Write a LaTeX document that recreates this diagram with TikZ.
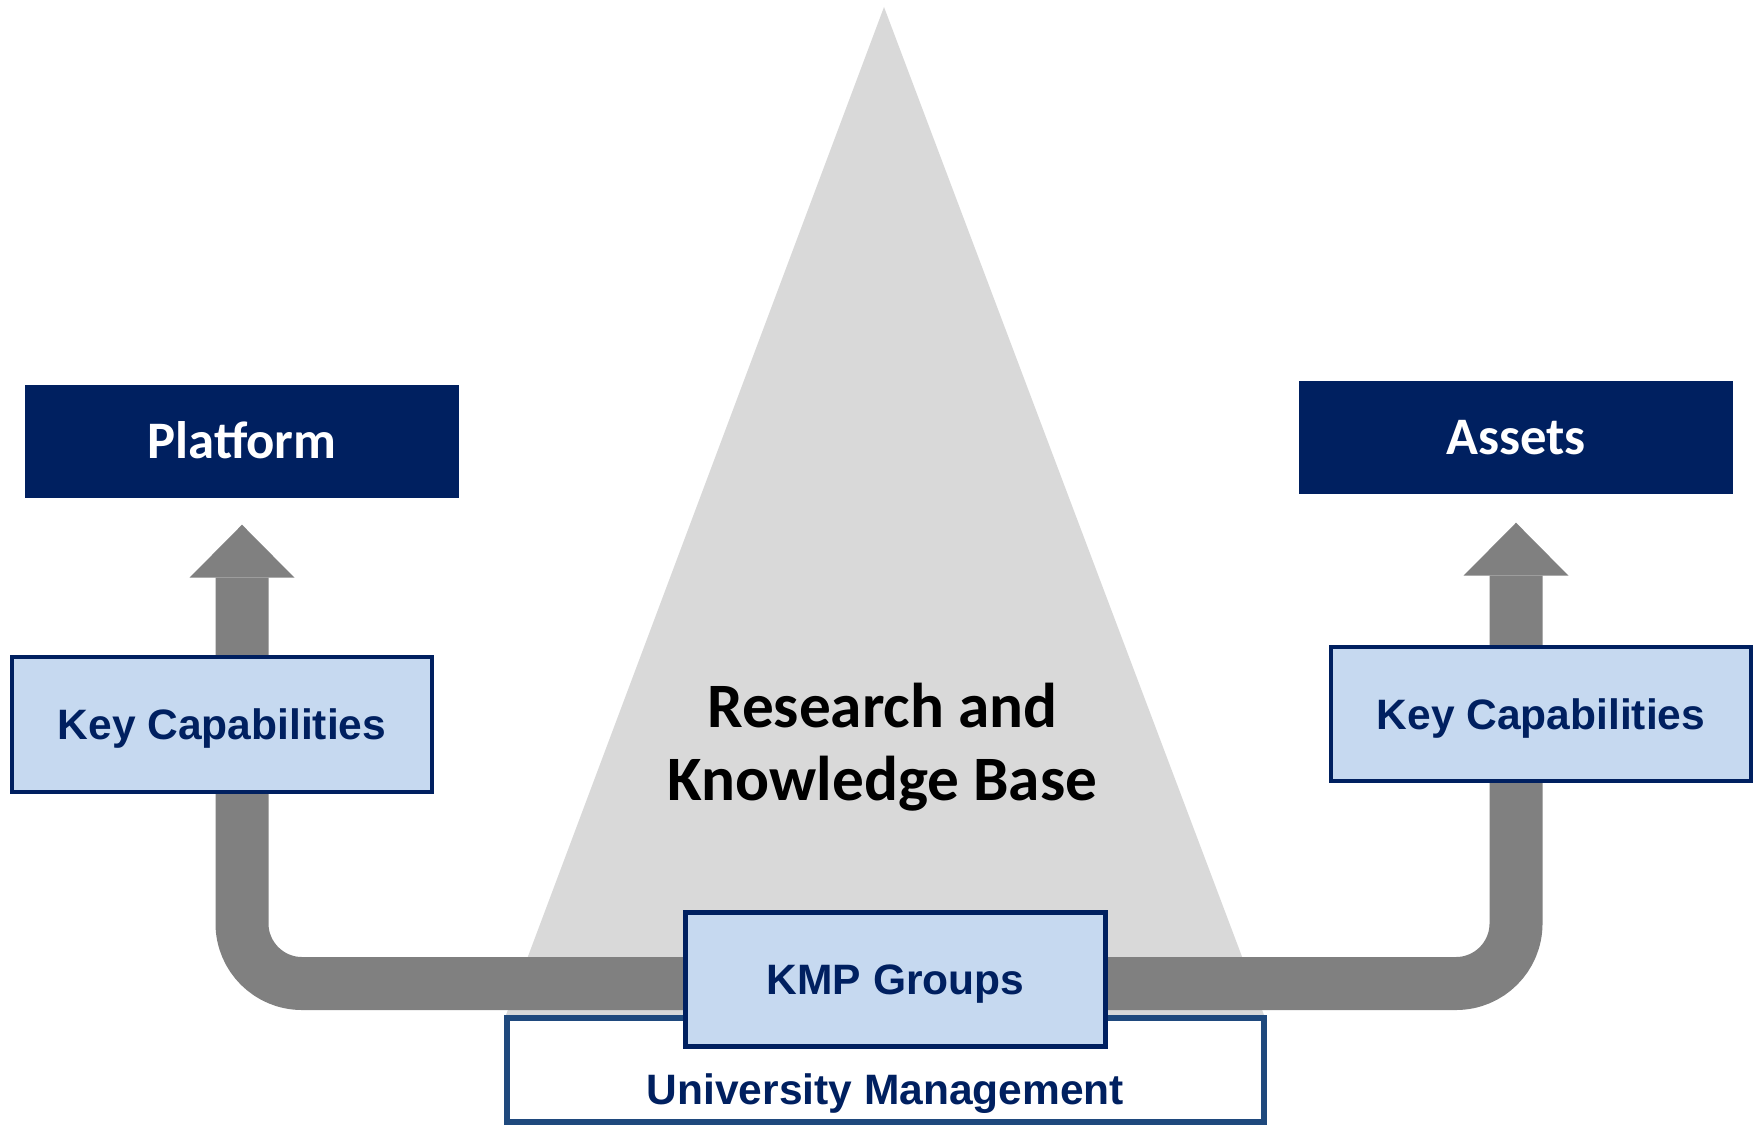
\documentclass[tikz,border=0pt]{standalone}
\usepackage{fontspec}
\newfontfamily\calibfont{Carlito}
\newfontfamily\arialfont{Liberation Sans}
\usetikzlibrary{arrows.meta}

\definecolor{kmpnavy}{HTML}{002060}
\definecolor{kmplight}{HTML}{C6D9F0}
\definecolor{umblue}{HTML}{1F497D}
\definecolor{basegray}{HTML}{D9D9D9}
\definecolor{flowgray}{HTML}{808080}

\tikzset{
  topbox/.style={fill=kmpnavy, text=white, inner sep=0pt,
    minimum width=43.4mm, minimum height=11.3mm,
    font=\calibfont\bfseries\fontsize{15}{18}\selectfont,
    text height=9.5pt, text depth=0pt},
  capbox/.style={draw=kmpnavy, fill=kmplight, text=kmpnavy, line width=0.4mm,
    inner sep=0pt, minimum width=42mm,
    font=\arialfont\bfseries\fontsize{12.1}{14}\selectfont,
    text height=8.66pt, text depth=0pt},
  flowtip/.tip={Triangle[length=5.3mm, width=10.5mm, line width=0pt]},
  flow/.style={draw=flowgray, line width=5.3mm, rounded corners=6mm},
}

\begin{document}
\begin{tikzpicture}[x=0.1mm, y=-0.1mm]
  \useasboundingbox (0,0) rectangle (1763,1125);

  % research and knowledge base
  \fill[basegray] (884,7) -- (1264,1015) -- (506,1015) -- cycle;

  % targets
  \node[topbox] (platform) at (242,441.5) {Platform};
  \node[topbox] (assets) at (1516,437.5) {Assets};

  % flow from the groups up to both targets
  \coordinate (kmpflow) at (895.5,983.5);
  \draw[flow, {flowtip}-{flowtip}]
    ([yshift=-2.6mm]platform.south) |- (kmpflow) -| ([yshift=-2.8mm]assets.south);

  % management and groups
  \node[draw=umblue, line width=0.6mm, fill=white, inner sep=0pt,
        minimum width=75.7mm, minimum height=10.4mm, text=kmpnavy,
        font=\arialfont\bfseries\fontsize{12.1}{14}\selectfont,
        text height=6.8mm, text depth=0pt] (um) at (885.5,1070) {University Management};
  \node[capbox, line width=0.5mm, minimum height=13.4mm] (kmp) at (895.5,979.5) {KMP Groups};

  % key capabilities
  \node[capbox, minimum height=13.5mm] (capleft) at (222,724.5) {Key Capabilities};
  \node[capbox, minimum height=13.4mm] (capright) at (1541,714) {Key Capabilities};

  \node[anchor=base, align=center,
        font=\calibfont\bfseries\fontsize{18}{20.5}\selectfont] (rkb) at (882.5,800)
        {Research and\\Knowledge Base};
\end{tikzpicture}
\end{document}
